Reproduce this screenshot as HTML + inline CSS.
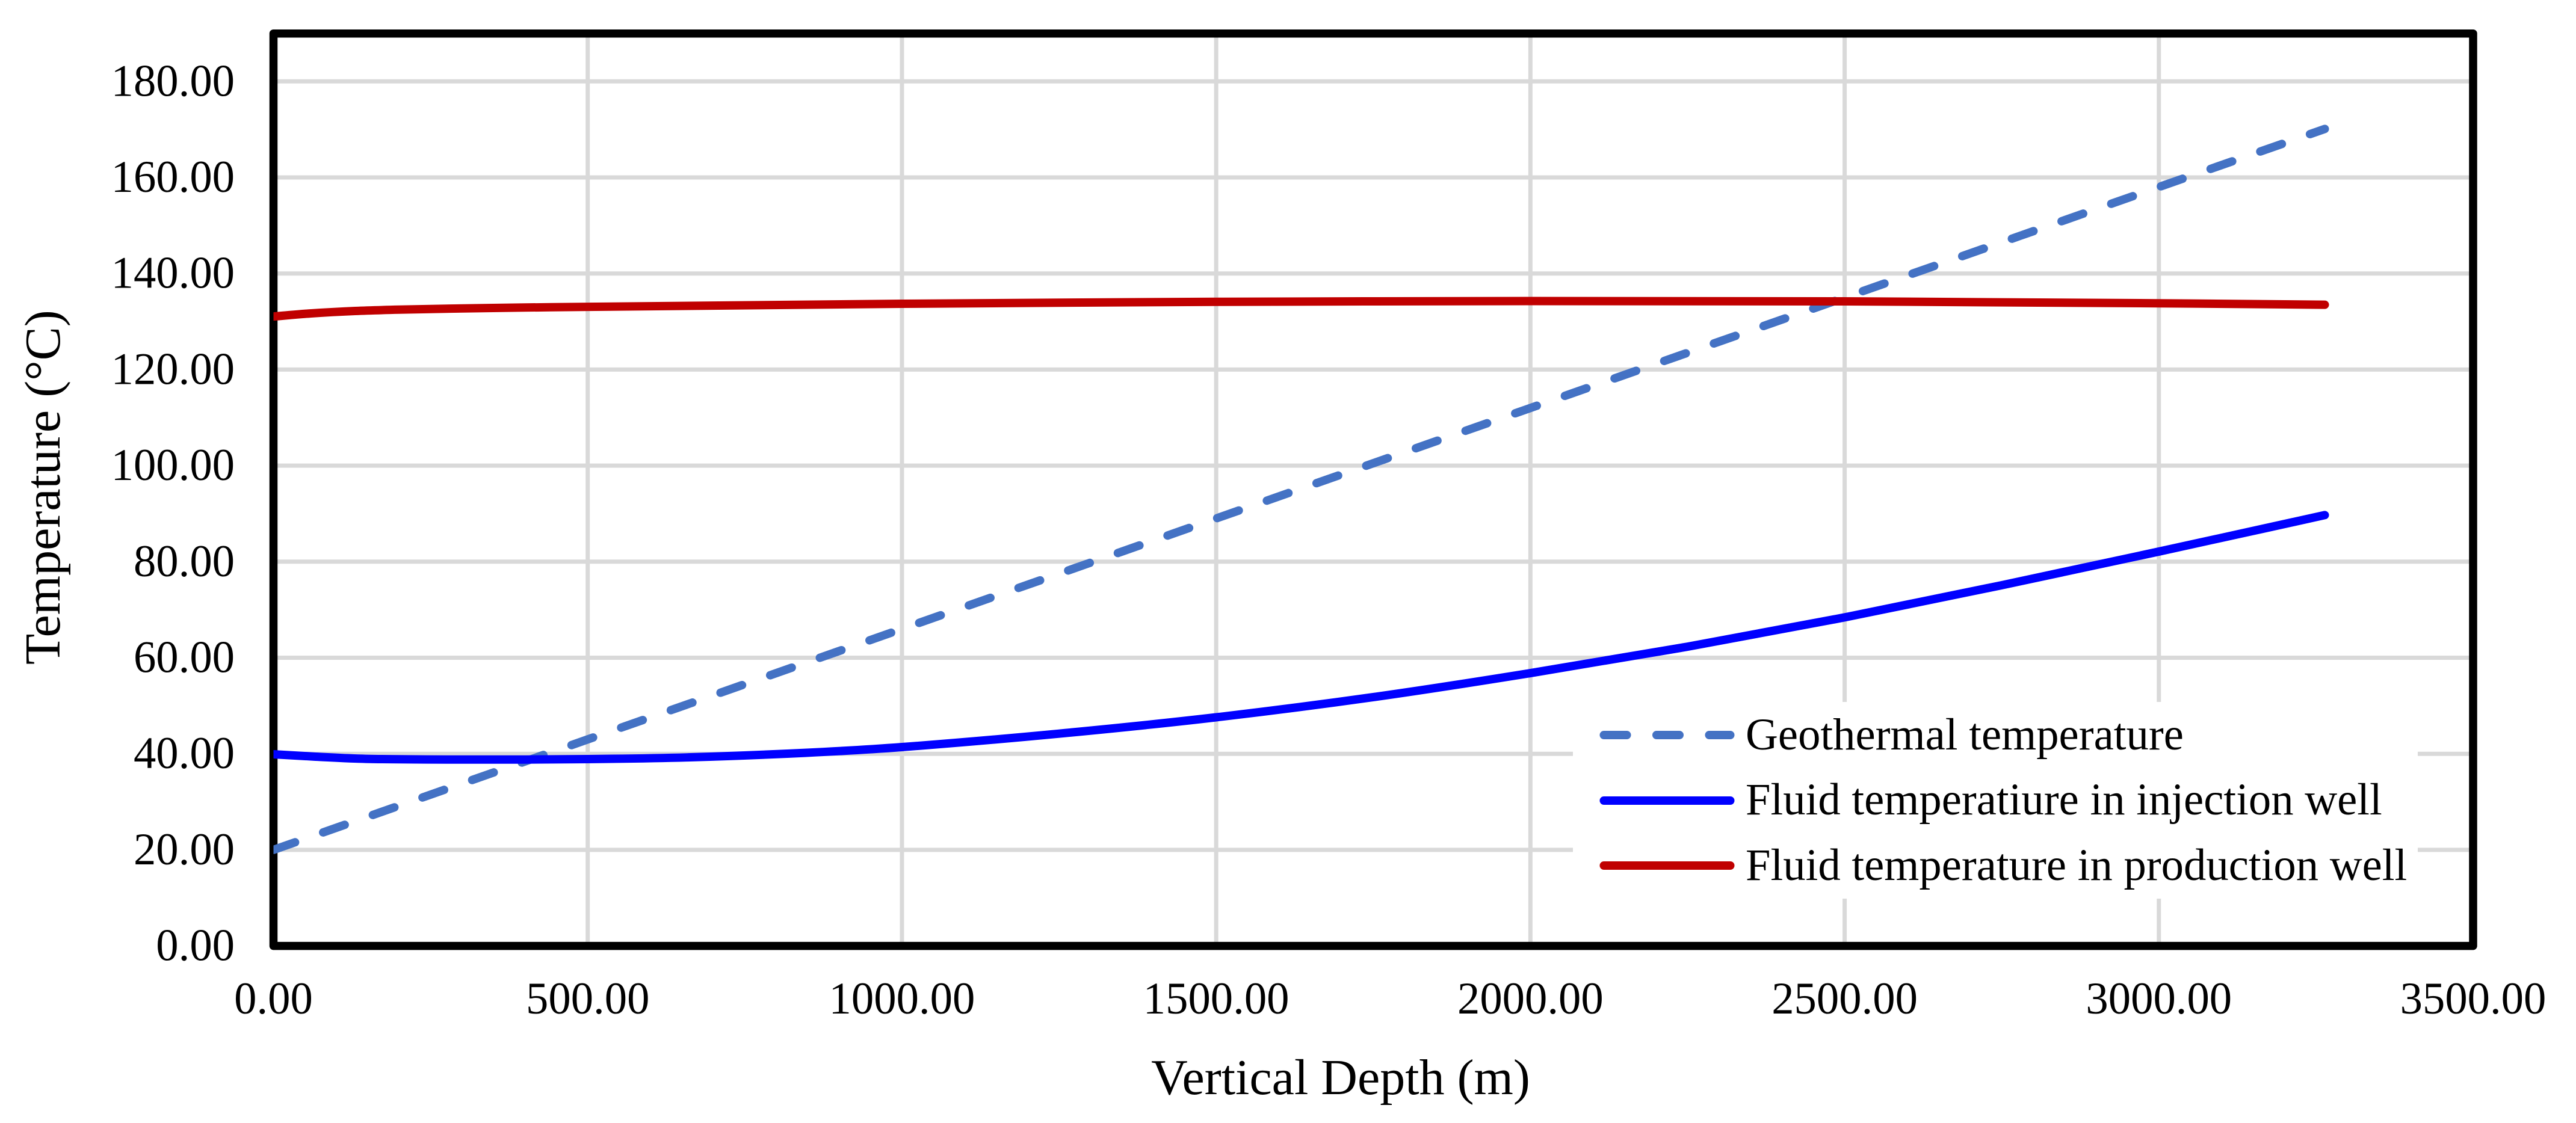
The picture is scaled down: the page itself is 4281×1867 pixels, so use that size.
<!DOCTYPE html>
<html>
<head>
<meta charset="utf-8">
<title>Temperature vs Vertical Depth</title>
<style>
html,body{margin:0;padding:0;background:#fff;}
svg{display:block;}
text{font-family:"Liberation Serif",serif;fill:#000;}
</style>
</head>
<body>
<svg id="chart" xmlns="http://www.w3.org/2000/svg" width="4281" height="1867" viewBox="0 0 4281 1867">
  <defs>
    <clipPath id="series-clip"><rect x="454.5" y="0" width="3826" height="1867"/></clipPath>
  </defs>
  <g id="grid"></g>
  <rect x="2614" y="1167" width="1404" height="327" fill="#fff"/>
  <rect x="454.5" y="55.7" width="3655.5" height="1516.9" fill="none" stroke="#000" stroke-width="13.5" stroke-linejoin="round"/>
  <g id="series" clip-path="url(#series-clip)"></g>
  <g id="ticks"></g>
  <text x="2228" y="1819" font-size="84" text-anchor="middle">Vertical Depth (m)</text>
  <text transform="translate(99,1105) rotate(-90)" font-size="84">Temperature (°C)</text>
  <g>
    <g>
      <line x1="2665.5" y1="1222" x2="2875.5" y2="1222" stroke="#4472C4" stroke-width="14" stroke-linecap="round" stroke-dasharray="38 49.5"/>
      <text x="2901" y="1246" font-size="74.7">Geothermal temperature</text>
    </g>
    <g>
      <line x1="2665.5" y1="1331" x2="2875.5" y2="1331" stroke="#0000FF" stroke-width="14" stroke-linecap="round"/>
      <text x="2901" y="1354" font-size="74.7">Fluid temperatiure in injection well</text>
    </g>
    <g>
      <line x1="2665.5" y1="1439" x2="2875.5" y2="1439" stroke="#C00000" stroke-width="14" stroke-linecap="round"/>
      <text x="2901" y="1463" font-size="74.7">Fluid temperature in production well</text>
    </g>
  </g>
</svg>
<script>
const xTicks = [0, 500, 1000, 1500, 2000, 2500, 3000, 3500];
const yTicks = [0, 20, 40, 60, 80, 100, 120, 140, 160, 180];

const geothermalDepth = [0, 500, 1000, 1500, 2000, 2500, 3000, 3264];
const geothermalTemp = [20, 43, 66, 89, 112, 135, 158, 170.1];

const injectionDepth = [0, 67, 147, 322, 500, 658, 846, 1000, 1250, 1500, 1750, 2000, 2250, 2500, 2750, 3000, 3264];
const injectionTemp = [39.9, 39.4, 38.95, 38.8, 38.9, 39.25, 40.2, 41.4, 44.2, 47.6, 51.8, 56.8, 62.3, 68.4, 75.1, 82.1, 89.7];

const productionDepth = [0, 60, 130, 200, 280, 390, 500, 1000, 1250, 1500, 2000, 2500, 3000, 3264];
const productionTemp = [131.05, 131.7, 132.2, 132.48, 132.68, 132.9, 133.06, 133.7, 133.92, 134.1, 134.27, 134.2, 133.8, 133.5];

const SVG_NS = 'http://www.w3.org/2000/svg';
function xScale(v) { return 454.5 + v * 3655.5 / 3500; }
function yScale(v) { return 1572.6 - v * 7.985; }

function make(tag, attrs, parent) {
  const el = document.createElementNS(SVG_NS, tag);
  for (const k in attrs) el.setAttribute(k, attrs[k]);
  parent.appendChild(el);
  return el;
}

function smoothPath(xs, ys) {
  const p = xs.map(function (x, i) { return [xScale(x), yScale(ys[i])]; });
  let d = 'M' + p[0][0].toFixed(2) + ' ' + p[0][1].toFixed(2);
  for (let i = 0; i < p.length - 1; i++) {
    const a = p[Math.max(i - 1, 0)], b = p[i], c = p[i + 1], e = p[Math.min(i + 2, p.length - 1)];
    const h = c[0] - b[0];
    const m1 = (c[1] - a[1]) / (c[0] - a[0]);
    const m2 = (e[1] - b[1]) / (e[0] - b[0]);
    d += ' C' + (b[0] + h / 3).toFixed(2) + ' ' + (b[1] + m1 * h / 3).toFixed(2) + ' ' + (c[0] - h / 3).toFixed(2) + ' ' + (c[1] - m2 * h / 3).toFixed(2) + ' ' + c[0].toFixed(2) + ' ' + c[1].toFixed(2);
  }
  return d;
}

const grid = document.getElementById('grid');
const ticks = document.getElementById('ticks');
const series = document.getElementById('series');

xTicks.forEach(function (v) {
  if (v > 0 && v < 3500) {
    const gx = make('line', { x1: xScale(v), x2: xScale(v), y1: 55.7, y2: 1572.6, stroke: '#D9D9D9', 'stroke-width': 7 }, grid);
    
    
  }
  const tx = make('text', { x: xScale(v), y: 1685, 'font-size': 74.7, 'text-anchor': 'middle' }, ticks);
  tx.textContent = v.toFixed(2);
  
  
});

yTicks.forEach(function (v) {
  if (v > 0) {
    const gy = make('line', { x1: 454.5, x2: 4110, y1: yScale(v), y2: yScale(v), stroke: '#D9D9D9', 'stroke-width': 7 }, grid);
    
    
  }
  const ty = make('text', { x: 390, y: yScale(v) + 24, 'font-size': 74.7, 'text-anchor': 'end' }, ticks);
  ty.textContent = v.toFixed(2);
  
  
});

const geoLine = make('path', { d: smoothPath(geothermalDepth, geothermalTemp), fill: 'none', stroke: '#4472C4', 'stroke-width': 14, 'stroke-linecap': 'round', 'stroke-dasharray': '38 49.5' }, series);



const injLine = make('path', { d: smoothPath(injectionDepth, injectionTemp), fill: 'none', stroke: '#0000FF', 'stroke-width': 14, 'stroke-linecap': 'round' }, series);



const prodLine = make('path', { d: smoothPath(productionDepth, productionTemp), fill: 'none', stroke: '#C00000', 'stroke-width': 14, 'stroke-linecap': 'round' }, series);


</script>
</body>
</html>
